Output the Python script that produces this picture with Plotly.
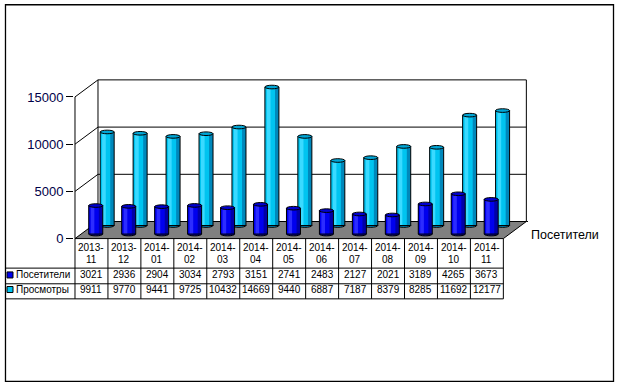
import plotly.graph_objects as go

# ---------------- data ----------------
categories = ["2013-11", "2013-12", "2014-01", "2014-02", "2014-03", "2014-04", "2014-05",
              "2014-06", "2014-07", "2014-08", "2014-09", "2014-10", "2014-11"]
visitors = [3021, 2936, 2904, 3034, 2793, 3151, 2741, 2483, 2127, 2021, 3189, 4265, 3673]
views = [9911, 9770, 9441, 9725, 10432, 14669, 9440, 6887, 7187, 8379, 8285, 11692, 12177]
series_names = ["Посетители", "Просмотры"]
y_ticks = [0, 5000, 10000, 15000]

# ---------------- geometry (pixels) ----------------
W, H = 619, 386
COLW = 32.95            # px per category
PX_X0 = 75.0            # px of category boundary -0.5
PX_Y0 = 238.3           # px of value 0 (front plane)
PPU = 141.0 / 15000     # px per value unit
DX_PX, DY_PX = 23.0, 17.0   # depth offset of back wall
DDX = DX_PX / COLW
DDY = DY_PX / PPU

XR = [-0.53, 12.5 + DDX + 0.05]
YR = [-150, 15000 + DDY + 200]


def xpix(v):
    return PX_X0 + (v + 0.5) * COLW


def ypix(v):
    return PX_Y0 - v * PPU


ml = xpix(XR[0])
mr = W - xpix(XR[1])
mt = ypix(YR[1])
mb = H - ypix(YR[0])
PW = W - ml - mr
PH = H - mt - mb


def xp(px):
    return (px - ml) / PW


def yp(py):
    return (H - mb - py) / PH


FONT = "Liberation Sans, Arial, sans-serif"
NARROW = "Liberation Sans Narrow, Arial Narrow, Liberation Sans, Arial, sans-serif"

fig = go.Figure()
shapes = []
annotations = []

# ---------------- floor & back wall (below traces) ----------------
shapes.append(dict(type="path", xref="x", yref="y", layer="below",
                   path=f"M -0.5,0 L 12.5,0 L {12.5 + DDX},{DDY} L {-0.5 + DDX},{DDY} Z",
                   fillcolor="#808080", line=dict(color="black", width=1)))
bx0, bx1 = -0.5 + DDX, 12.5 + DDX
shapes.append(dict(type="line", xref="x", yref="y", layer="below",
                   x0=bx0, x1=bx0, y0=DDY, y1=15000 + DDY, line=dict(color="black", width=1)))
shapes.append(dict(type="line", xref="x", yref="y", layer="below",
                   x0=bx1, x1=bx1, y0=DDY, y1=15000 + DDY, line=dict(color="black", width=1)))
for g in y_ticks[1:]:
    shapes.append(dict(type="line", xref="x", yref="y", layer="below",
                       x0=bx0, x1=bx1, y0=g + DDY, y1=g + DDY, line=dict(color="black", width=1)))
for g in y_ticks[1:]:
    shapes.append(dict(type="line", xref="x", yref="y", layer="below",
                       x0=-0.5, x1=bx0, y0=g, y1=g + DDY, line=dict(color="black", width=1)))
shapes.append(dict(type="line", xref="x", yref="y", layer="below",
                   x0=-0.5, x1=-0.5, y0=0, y1=15000, line=dict(color="black", width=1)))
shapes.append(dict(type="line", xref="x", yref="y", layer="below",
                   x0=bx1, x1=bx1 + 0.2, y0=DDY, y1=DDY, line=dict(color="black", width=1)))

# ---------------- cylinders ----------------
xs = list(range(len(categories)))
BW = 14.0 / COLW
RY = 1.8 / PPU

series_geom = [
    (views, 15.7 / COLW, 13.0 / PPU, ("#0088BB", "#00C4F0", "#3ADAFF", "#00A6D6")),
    (visitors, 4.3 / COLW, 4.5 / PPU, ("#0000A8", "#0000EE", "#2C2CFF", "#0000D0")),
]

for vals, c, base, cols in series_geom:
    dark, main, hi, cap = cols
    for i, v in zip(xs, vals):
        shapes.append(dict(type="circle", xref="x", yref="y", layer="below",
                           x0=i + c - BW / 2, x1=i + c + BW / 2, y0=base - RY, y1=base + RY,
                           fillcolor=dark, line=dict(color="black", width=1)))
    for off, wf, col in [(0.0, 1.0, dark), (0.0, 0.72, main), (0.14, 0.26, hi)]:
        fig.add_trace(go.Bar(x=xs, y=vals, base=base, offset=c - BW / 2 + off * BW,
                             width=wf * BW, marker=dict(color=col, line=dict(width=0)),
                             showlegend=False, hoverinfo="skip"))
    fig.add_trace(go.Bar(x=xs, y=vals, base=base, offset=c - BW / 2, width=BW,
                         marker=dict(color="rgba(0,0,0,0)", line=dict(color="black", width=1)),
                         showlegend=False, hoverinfo="skip"))
    for i, v in zip(xs, vals):
        shapes.append(dict(type="circle", xref="x", yref="y", layer="above",
                           x0=i + c - BW / 2, x1=i + c + BW / 2, y0=base + v - RY, y1=base + v + RY,
                           fillcolor=cap, line=dict(color="black", width=1)))

# ---------------- data table ----------------
T_TOP, R1, R2, T_BOT = PX_Y0, 267.7, 283.3, 298.3
x_left_tab = 6.0
x_right_tab = xpix(12.5)
for k in range(len(categories) + 1):
    shapes.append(dict(type="line", xref="x", yref="paper", x0=k - 0.5, x1=k - 0.5,
                       y0=yp(T_TOP), y1=yp(T_BOT), line=dict(color="black", width=1)))
for py in (R1, R2, T_BOT):
    shapes.append(dict(type="line", xref="paper", yref="paper", x0=xp(x_left_tab), x1=xp(x_right_tab),
                       y0=yp(py), y1=yp(py), line=dict(color="black", width=1)))

for i, cat in enumerate(categories):
    y_part, m_part = cat.split("-")
    annotations.append(dict(x=i, y=yp(247.2), xref="x", yref="paper", text=y_part + "-",
                            showarrow=False, xanchor="center", yanchor="middle",
                            font=dict(family=NARROW, size=10, color="black")))
    annotations.append(dict(x=i, y=yp(259.5), xref="x", yref="paper", text=m_part,
                            showarrow=False, xanchor="center", yanchor="middle",
                            font=dict(family=NARROW, size=10, color="black")))
for vals, py in ((visitors, 274.5), (views, 289.0)):
    for i, v in enumerate(vals):
        annotations.append(dict(x=i, y=yp(py), xref="x", yref="paper", text=str(v),
                                showarrow=False, xanchor="center", yanchor="middle",
                                font=dict(family=NARROW, size=10, color="black")))

key_colors = ["#0000EE", "#00C4F0"]
for name, col, py in zip(series_names, key_colors, (274.5, 289.0)):
    shapes.append(dict(type="rect", xref="paper", yref="paper",
                       x0=xp(7), x1=xp(13), y0=yp(py - 3), y1=yp(py + 3),
                       fillcolor=col, line=dict(color="black", width=1)))
    annotations.append(dict(x=xp(14), y=yp(py), xref="paper", yref="paper", text=name,
                            showarrow=False, xanchor="left", yanchor="middle",
                            font=dict(family=FONT, size=10, color="black")))

annotations.append(dict(x=xp(529), y=yp(234.3), xref="paper", yref="paper", text=series_names[0],
                        showarrow=False, xanchor="left", yanchor="middle",
                        font=dict(family=FONT, size=12.5, color="black")))

shapes.append(dict(type="rect", xref="paper", yref="paper",
                   x0=xp(5.5), x1=xp(613.5), y0=yp(5.5), y1=yp(380.5),
                   line=dict(color="black", width=1.3), fillcolor="rgba(0,0,0,0)"))

fig.update_layout(
    width=W, height=H,
    margin=dict(l=ml, r=mr, t=mt, b=mb, pad=0, autoexpand=False),
    paper_bgcolor="white", plot_bgcolor="white",
    barmode="overlay", showlegend=False,
    shapes=shapes, annotations=annotations,
    xaxis=dict(range=XR, showgrid=False, zeroline=False, showline=False,
               showticklabels=False, ticks=""),
    yaxis=dict(range=YR, tickvals=y_ticks, tickformat="d", ticks="outside", ticklen=7,
               tickcolor="black", tickwidth=1, showgrid=False, zeroline=False, showline=False,
               tickfont=dict(family=FONT, size=13, color="#000048")),
)

fig.write_html("out.html", config={"displayModeBar": False},
               post_script="document.body.style.margin='0';")
